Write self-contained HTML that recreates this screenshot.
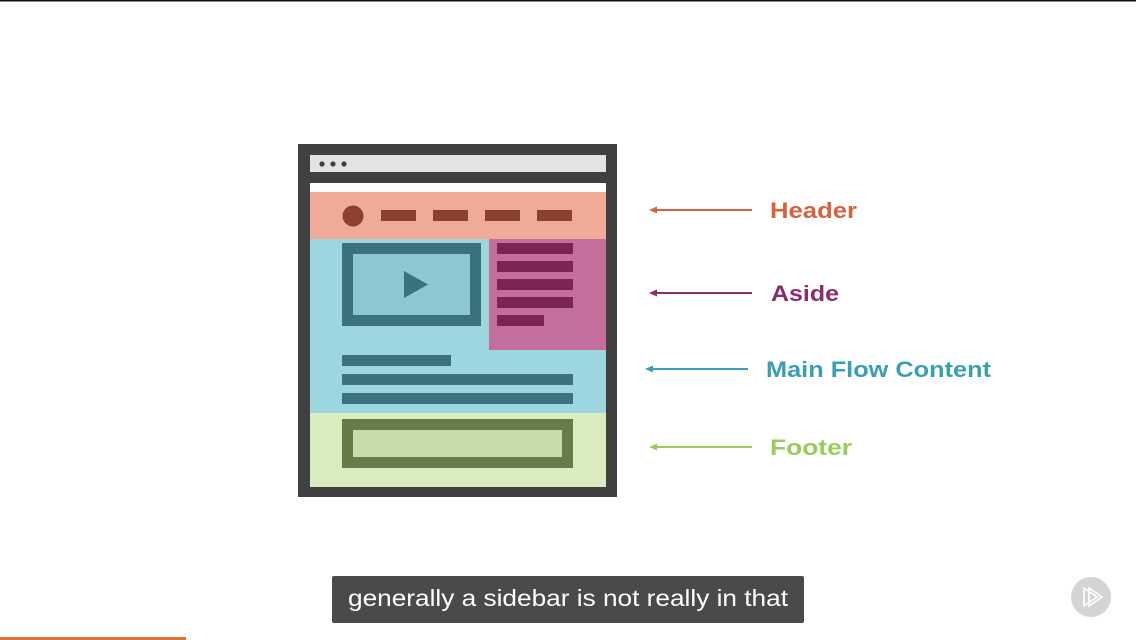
<!DOCTYPE html>
<html><head><meta charset="utf-8"><style>
html,body{margin:0;padding:0;background:#fff;}
body{width:1136px;height:640px;overflow:hidden;position:relative;font-family:"Liberation Sans",sans-serif;}
</style></head><body>
<svg width="1136" height="640" viewBox="0 0 1136 640" style="position:absolute;left:0;top:0">
<rect x="0" y="0" width="1136" height="1.5" fill="#111"/>
<!-- frame -->
<rect x="298" y="144" width="319" height="353" fill="#404040"/>
<rect x="310" y="155" width="296" height="17" fill="#e3e3e3"/>
<circle cx="322" cy="164" r="2.6" fill="#404040"/>
<circle cx="333" cy="164" r="2.6" fill="#404040"/>
<circle cx="344" cy="164" r="2.6" fill="#404040"/>
<rect x="310" y="183" width="296" height="9" fill="#fff"/>
<!-- header -->
<rect x="310" y="192" width="296" height="47" fill="#f0ab98"/>
<circle cx="353" cy="216" r="10.5" fill="#8c4031"/>
<rect x="381" y="210" width="35" height="11" fill="#8c4031"/>
<rect x="433" y="210" width="35" height="11" fill="#8c4031"/>
<rect x="485" y="210" width="35" height="11" fill="#8c4031"/>
<rect x="537" y="210" width="35" height="11" fill="#8c4031"/>
<!-- main -->
<rect x="310" y="239" width="296" height="174" fill="#9dd6df"/>
<rect x="342" y="243" width="139" height="83" fill="#3b727c"/>
<rect x="353" y="254" width="117" height="61" fill="#8dc8d1"/>
<polygon points="404,271 428,284.5 404,298" fill="#3b727c"/>
<rect x="342" y="355" width="109" height="11" fill="#3b727c"/>
<rect x="342" y="374" width="231" height="11" fill="#3b727c"/>
<rect x="342" y="393" width="231" height="11" fill="#3b727c"/>
<!-- aside -->
<rect x="489" y="239" width="117" height="111" fill="#c46f9b"/>
<rect x="497" y="243" width="76" height="11" fill="#7c2452"/>
<rect x="497" y="261" width="76" height="11" fill="#7c2452"/>
<rect x="497" y="279" width="76" height="11" fill="#7c2452"/>
<rect x="497" y="297" width="76" height="11" fill="#7c2452"/>
<rect x="497" y="315" width="47" height="11" fill="#7c2452"/>
<!-- footer -->
<rect x="310" y="413" width="296" height="74" fill="#d9ecc0"/>
<rect x="342" y="419" width="231" height="49" fill="#687a47"/>
<rect x="353" y="430" width="209" height="27" fill="#c5dcaa"/>
<!-- arrows -->
<g stroke-width="2">
<line x1="653" y1="210" x2="752" y2="210" stroke="#d4633f"/>
<line x1="653" y1="293" x2="752" y2="293" stroke="#8b2d6b"/>
<line x1="649" y1="369" x2="748" y2="369" stroke="#3a9fb5"/>
<line x1="653" y1="447" x2="752" y2="447" stroke="#9acb5d"/>
</g>
<polygon points="649,210 657,206.5 657,213.5" fill="#d4633f"/>
<polygon points="649,293 657,289.5 657,296.5" fill="#8b2d6b"/>
<polygon points="645,369 653,365.5 653,372.5" fill="#3a9fb5"/>
<polygon points="649,447 657,443.5 657,450.5" fill="#9acb5d"/>
<g font-family="Liberation Sans, sans-serif" font-size="22" font-weight="bold">
<text x="770" y="218" fill="#d4633f" textLength="87" lengthAdjust="spacingAndGlyphs">Header</text>
<text x="771" y="301" fill="#8b2d6b" textLength="68" lengthAdjust="spacingAndGlyphs">Aside</text>
<text x="766" y="377" fill="#3a9fb5" textLength="225" lengthAdjust="spacingAndGlyphs">Main Flow Content</text>
<text x="770" y="455" fill="#9acb5d" textLength="82" lengthAdjust="spacingAndGlyphs">Footer</text>
</g>
<!-- caption -->
<rect x="332" y="576" width="472" height="47" rx="2" fill="#4a4a4a"/>
<text x="568" y="606" fill="#fff" font-family="Liberation Sans, sans-serif" font-size="23" text-anchor="middle" textLength="440" lengthAdjust="spacingAndGlyphs">generally a sidebar is not really in that</text>
<circle cx="1091" cy="597" r="20" fill="#d4d4d4"/>
<polygon points="1084,588 1097,597 1084,606" fill="none" stroke="#fff" stroke-width="1.6"/>
<polygon points="1089,588 1102,597 1089,606" fill="none" stroke="#fff" stroke-width="1.6"/>
<rect x="0" y="637" width="186" height="3" fill="#e0733a"/>
</svg>
</body></html>
